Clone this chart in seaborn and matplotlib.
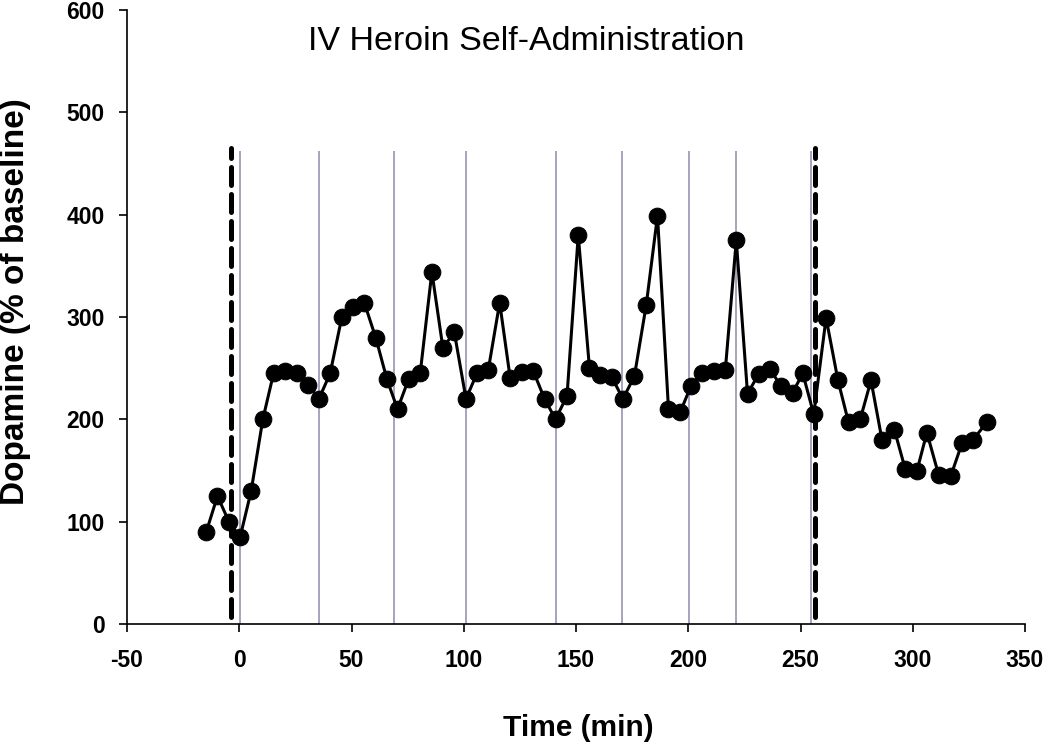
import numpy as np
import pandas as pd
import matplotlib.pyplot as plt
import seaborn as sns

# dopamine time course
time_min = [-14.7, -9.7, -4.6, 0.4, 5.3, 10.5, 15.3, 20.5, 25.7, 30.6,
            35.5, 40.5, 45.7, 50.5, 55.7, 60.9, 65.8, 70.5, 75.4, 80.6,
            85.8, 90.7, 95.8, 101.0, 105.9, 110.9, 116.0, 120.7, 125.9, 131.0,
            136.0, 140.9, 146.0, 151.0, 156.0, 160.8, 166.0, 170.9, 176.0, 181.3,
            186.3, 191.2, 196.4, 201.3, 206.1, 211.3, 216.5, 221.4, 226.4, 231.3,
            236.2, 241.3, 246.5, 251.0, 255.9, 261.4, 266.7, 271.4, 276.6, 281.4,
            286.3, 291.8, 296.7, 301.9, 306.3, 311.5, 317.0, 322.0, 326.8, 333.0]
dopamine = [90, 125, 100, 85, 130, 200, 245, 247, 245, 234,
            220, 245, 300, 310, 314, 279, 239, 210, 239, 245,
            344, 270, 285, 220, 245, 248, 314, 240, 246, 247,
            220, 200, 223, 380, 250, 243, 241, 220, 242, 312,
            399, 210, 207, 233, 245, 247, 248, 375, 225, 244,
            249, 233, 226, 245, 205, 299, 238, 197, 200, 238,
            180, 190, 151, 150, 187, 146, 145, 177, 180, 197]

# heroin infusions (thin grey lines) and session start / end (dashed lines)
infusion_times = [0.4, 35.5, 69.0, 101.0, 141.0, 170.3, 200.4, 221.4, 254.8]
session_bounds = [-3.6, 256.5]

x_ticks = [-50, 0, 50, 100, 150, 200, 250, 300, 350]
y_ticks = [0, 100, 200, 300, 400, 500, 600]

df = pd.DataFrame({'time': time_min, 'dopamine': dopamine})

sns.set_style('ticks')
plt.rcParams['font.family'] = ['Liberation Sans', 'DejaVu Sans']
plt.rcParams['axes.unicode_minus'] = False
plt.rcParams['text.color'] = 'black'
plt.rcParams['xtick.color'] = 'black'
plt.rcParams['ytick.color'] = 'black'
plt.rcParams['axes.edgecolor'] = 'black'

fig = plt.figure(figsize=(10.5, 7.45), dpi=100)
ax = fig.add_axes([127 / 1050, 121 / 745, 898 / 1050, 614 / 745])

ax.vlines(infusion_times, 0, 462, colors='#9d9dbb', linewidth=1.3, zorder=1)

sns.lineplot(data=df, x='time', y='dopamine', ax=ax, color='black', linewidth=2.2,
             marker='o', markersize=12, markeredgecolor='black', zorder=3)

for xb in session_bounds:
    ax.plot([xb, xb], [7, 465], color='black', linewidth=3.6,
            dashes=(3.6, 1.8), dash_capstyle='round', zorder=4)

ax.set_xlim(-50, 350)
ax.set_ylim(0, 600)
ax.set_xticks(x_ticks)
ax.set_yticks(y_ticks)
ax.set_xlabel('')
ax.set_ylabel('')
sns.despine(ax=ax)
for sp in ['left', 'bottom']:
    ax.spines[sp].set_linewidth(1.2)
    ax.spines[sp].set_color('black')
ax.tick_params(axis='both', direction='out', length=6, width=1.2, color='black',
               labelcolor='black', labelsize=16.5)
ax.tick_params(axis='x', pad=12)
ax.tick_params(axis='y', pad=10)
for lab in ax.get_xticklabels() + ax.get_yticklabels():
    lab.set_fontweight('bold')

fig.text(526 / 1050, 1 - 42 / 745, 'IV Heroin Self-Administration',
         ha='center', va='center', fontsize=24.5, color='black')
fig.text(578 / 1050, 1 - 728 / 745, 'Time (min)', ha='center', va='center',
         fontsize=21.5, fontweight='bold', color='black')
fig.text(16 / 1050, 1 - 302 / 745, 'Dopamine (% of baseline)', ha='center',
         va='center', rotation=90, fontsize=24, fontweight='bold', color='black')

fig.savefig('out.png', dpi=100)
